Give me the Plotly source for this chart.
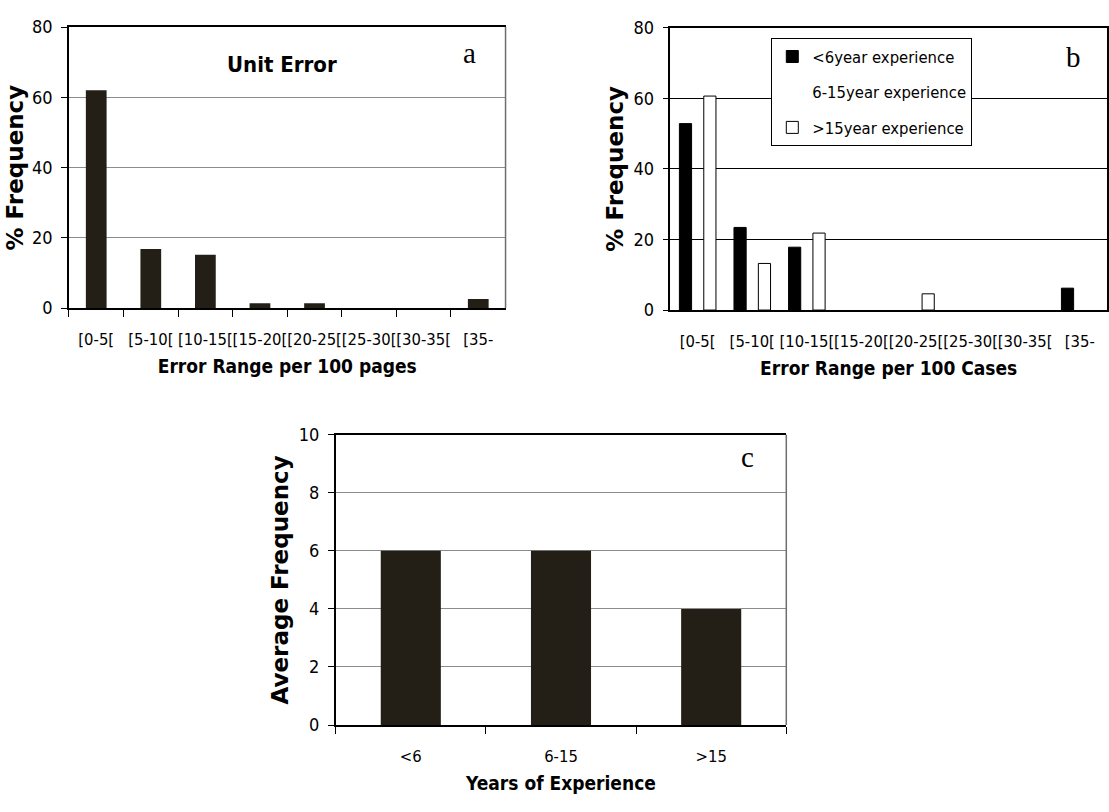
import plotly.graph_objects as go

W, H = 1109, 812

# ---------------- data ----------------
ranges_a = ["[0-5[", "[5-10[", "[10-15[", "[15-20[", "[20-25[", "[25-30[", "[30-35[", "[35-"]
unit_error = [62, 16.8, 15.2, 1.4, 1.4, 0, 0, 2.6]

ranges_b = ["[0-5[", "[5-10[", "[10-15[", "[15-20[", "[20-25[", "[25-30[", "[30-35[", "[35-"]
exp_lt6 = [52.8, 23.4, 17.8, 0, 0, 0, 0, 6.2]
exp_6_15 = [None, None, None, None, None, None, None, None]  # not visible in the picture
exp_gt15 = [60.6, 13.2, 21.8, 0, 4.6, 0, 0, 0]
series_names = ["<6year experience", "6-15year experience", ">15year experience"]

years = ["<6", "6-15", ">15"]
avg_freq = [6, 6, 4]

# ---------------- style ----------------
DARK = "#231f16"
COND = "DejaVu Sans Condensed, Roboto Condensed, Liberation Sans Narrow, Roboto, sans-serif"
WIDE_BOLD = "DejaVu Sans, Arial, sans-serif"
SERIF = "Liberation Serif, Times New Roman, serif"


def px_x(p):
    return p / W


def px_y(p):
    return 1 - p / H


def nz(vals):
    # zero-height bars are not drawn (no outline stub at the baseline)
    return [v if v else None for v in vals]


fig = go.Figure()

fig.add_trace(go.Bar(x=ranges_a, y=nz(unit_error), marker=dict(color=DARK, line=dict(width=0)),
                     width=0.38, xaxis="x", yaxis="y", showlegend=False))

fig.add_trace(go.Bar(x=ranges_b, y=nz(exp_lt6), name=series_names[0], legendgroup="g1",
                     marker=dict(color="black", line=dict(color="black", width=1)),
                     xaxis="x2", yaxis="y2"))
fig.add_trace(go.Bar(x=ranges_b, y=exp_6_15, name=series_names[1], legendgroup="g2",
                     marker=dict(color="white", line=dict(color="white", width=0)),
                     xaxis="x2", yaxis="y2"))
fig.add_trace(go.Bar(x=ranges_b, y=nz(exp_gt15), name=series_names[2], legendgroup="g3",
                     marker=dict(color="white", line=dict(color="black", width=1)),
                     xaxis="x2", yaxis="y2"))

fig.add_trace(go.Bar(x=years, y=avg_freq, marker=dict(color=DARK, line=dict(width=0)),
                     xaxis="x3", yaxis="y3", showlegend=False, width=0.4))

xtickfont = dict(family=COND, size=16.5, color="black")
ytickfont = dict(family=COND, size=18, color="black")
xtitlefont = dict(family=COND, size=19, color="black", weight="bold")
ytitlefont = dict(family=WIDE_BOLD, size=23, color="black", weight="bold")


def xaxis(domain, anchor, title, ticks):
    return dict(domain=domain, anchor=anchor, type="category", showline=True, linecolor="black",
                linewidth=1.5, mirror=True, showgrid=False, ticks=ticks, ticklen=7, tickcolor="black",
                tickson="boundaries", tickfont=xtickfont, tickangle=0, ticklabelstandoff=15,
                title=dict(text=title, font=xtitlefont, standoff=12), fixedrange=True)


def yaxis(domain, anchor, title, rng, dtick, gridcolor, standoff, mirror):
    return dict(domain=domain, anchor=anchor, range=rng, dtick=dtick, showline=True, linecolor="black",
                linewidth=1.5, mirror=mirror, showgrid=True, gridcolor=gridcolor, gridwidth=1,
                ticks="outside", ticklen=6, tickcolor="black", tickfont=ytickfont, ticklabelstandoff=5,
                title=dict(text=title, font=ytitlefont, standoff=standoff), zeroline=False, fixedrange=True)


fig.update_layout(
    width=W, height=H,
    margin=dict(l=0, r=0, t=0, b=0),
    paper_bgcolor="white", plot_bgcolor="white",
    barmode="group",
    bargap=0.33, bargroupgap=0,
    xaxis=xaxis([px_x(69), px_x(506)], "y", "Error Range per 100 pages", "outside"),
    yaxis=yaxis([px_y(305), px_y(16.5)], "x", "% Frequency", [0, 80], 20, "#8c8c8c", 2, False),
    xaxis2=xaxis([px_x(671), px_x(1108)], "y2", "Error Range per 100 Cases", ""),
    yaxis2=yaxis([px_y(307), px_y(17)], "x2", "% Frequency", [0, 80], 20, "black", 3, True),
    xaxis3=xaxis([px_x(336), px_x(787)], "y3", "Years of Experience", "outside"),
    yaxis3=yaxis([px_y(733), px_y(435)], "x3", "Average Frequency", [0, 10], 2, "#8c8c8c", 4, False),
    legend=dict(x=px_x(772), y=px_y(28), xanchor="left", yanchor="top",
                bgcolor="white", bordercolor="black", borderwidth=1,
                font=dict(family=COND, size=16.5, color="black"),
                traceorder="grouped", tracegroupgap=11, itemwidth=30),
    showlegend=True,
)

# grey right-hand frame edge of panels a and c
for xr, yr in (("x domain", "y domain"), ("x3 domain", "y3 domain")):
    fig.add_shape(type="line", xref=xr, yref=yr, x0=1, x1=1, y0=0, y1=1,
                  line=dict(color="#6e6e6e", width=1.5))

annots = [
    dict(text="<b>Unit Error</b>", x=px_x(282), y=px_y(55), font=dict(family=COND, size=22, color="black")),
    dict(text="a", x=px_x(470), y=px_y(43), font=dict(family=SERIF, size=29, color="black")),
    dict(text="b", x=px_x(1074), y=px_y(47), font=dict(family=SERIF, size=29, color="black")),
    dict(text="c", x=px_x(748), y=px_y(458), font=dict(family=SERIF, size=29, color="black")),
]
for a in annots:
    fig.add_annotation(xref="paper", yref="paper", showarrow=False, xanchor="center", yanchor="middle", **a)

fig.write_html("out.html")
